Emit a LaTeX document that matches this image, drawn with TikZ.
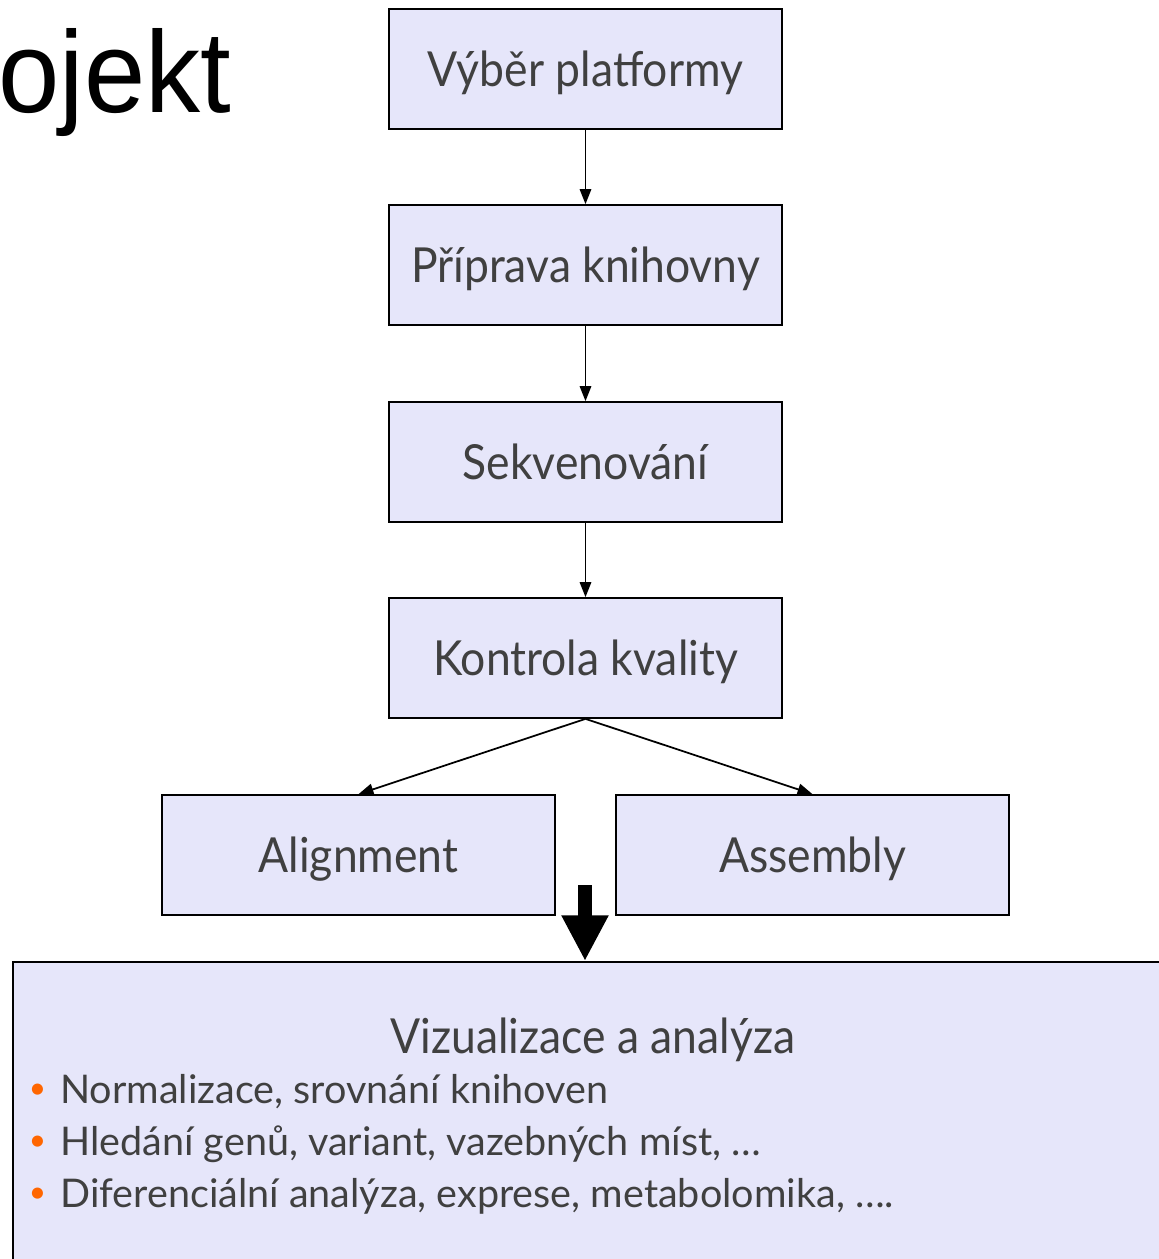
\documentclass[tikz,border=0pt]{standalone}
\usepackage{fontspec}
\setmainfont{Lato}
\newfontfamily\boxfont[FakeStretch=0.92]{Lato}
\newfontfamily\titlefont[FakeStretch=0.95]{Liberation Sans}
\usetikzlibrary{positioning, arrows.meta, calc}
\definecolor{boxfill}{RGB}{230,230,250}
\definecolor{boxtext}{RGB}{64,64,64}
\definecolor{bulletcol}{RGB}{255,102,0}

\newcommand{\orangedot}{\llap{\raisebox{2.4pt}{\color{bulletcol}\fontsize{17}{17}\selectfont•}\hspace{8pt}}}

\tikzset{
  stepbox/.style={draw=black, line width=1pt, fill=boxfill, text=boxtext,
    minimum width=7.86cm, minimum height=2.4cm, text height=24pt, text depth=3.6pt,
    font=\boxfont\fontsize{27.5}{32}\selectfont},
  flow/.style={-{Triangle[length=8.5pt,width=6.5pt]}, line width=1pt},
  bigarrow/.style={-{Triangle[length=26pt,width=25pt]}, line width=8pt},
  listline/.style={anchor=base west, text=boxtext, inner sep=0pt, font=\fontsize{22.5}{26}\selectfont}
}

\begin{document}
\begin{tikzpicture}[x=0.02cm,y=-0.02cm]
            \useasboundingbox (0,0) rectangle (1159,1259);
            \clip (0,0) rectangle (1159,1259);
            % title
            \node[anchor=base west, inner sep=0pt, font=\titlefont\fontsize{66}{72}\selectfont] (title) at (-2,112) {ojekt};
            % workflow boxes
            \node[stepbox] (platforma) at (585.5,69) {Výběr platformy};
            \node[stepbox] (knihovna) at (585.5,265) {Příprava knihovny};
            \node[stepbox] (sekvenace) at (585.5,462) {Sekvenování};
            \node[stepbox] (kvalita) at (585.5,658) {Kontrola kvality};
            \node[stepbox] (alignment) at (358.5,855) {Alignment};
            \node[stepbox] (assembly) at (812.5,855) {Assembly};
            % analysis box, runs off the page
            \node[draw=black, line width=1.2pt, fill=boxfill, anchor=north west,
                  minimum width=24cm, minimum height=7cm] (analyza) at (12,961) {};
            \node[listline, anchor=base, font=\boxfont\fontsize{27.5}{32}\selectfont] (analyzatitle) at (593,1053) {Vizualizace a analýza};
            \node[listline] (item1) at (60,1103) {\orangedot Normalizace, srovnání knihoven};
            \node[listline] (item2) at (60,1155) {\orangedot Hledání genů, variant, vazebných míst, …};
            \node[listline] (item3) at (60,1207) {\orangedot Diferenciální analýza, exprese, metabolomika, ….};
            % connectors
            \draw[flow] (platforma) -- (knihovna);
            \draw[flow] (knihovna) -- (sekvenace);
            \draw[flow] (sekvenace) -- (kvalita);
            \draw[flow] (kvalita.south) -- (alignment.north);
            \draw[flow] (kvalita.south) -- (assembly.north);
            \coordinate (gap) at (585,885);
            \draw[bigarrow] (gap) -- (gap |- analyza.north);
        \end{tikzpicture}
\end{document}
